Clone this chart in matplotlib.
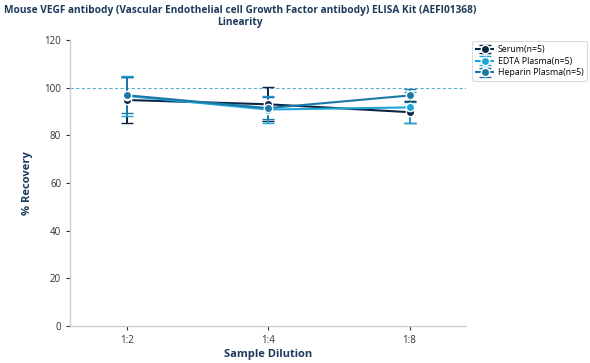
import numpy as np
import matplotlib.pyplot as plt

plt.rcParams['font.family'] = ['Open Sans', 'DejaVu Sans']

dilutions = ['1:2', '1:4', '1:8']
series_names = ['Serum(n=5)', 'EDTA Plasma(n=5)', 'Heparin Plasma(n=5)']
serum = [94.8, 93.0, 89.7]
serum_err = [9.5, 7.2, 4.5]
edta = [96.5, 90.8, 91.7]
edta_err = [8.5, 5.8, 6.5]
heparin = [96.8, 91.4, 96.7]
heparin_err = [7.5, 4.5, 2.8]

colors = ['#0b2545', '#1ea6d6', '#1b78a8']
title_color = '#1c3a5a'

fig = plt.figure(figsize=(5.9, 3.63), dpi=100)
ax = fig.add_axes([0.119, 0.102, 0.671, 0.788])

x = np.arange(len(dilutions))
for vals, errs, c, name in zip([serum, edta, heparin], [serum_err, edta_err, heparin_err], colors, series_names):
    ax.errorbar(x, vals, yerr=errs, color=c, marker='o', markersize=6, markeredgecolor='white',
                markeredgewidth=1.0, linewidth=1.5, capsize=4, capthick=1.4, elinewidth=1.4,
                label=name, zorder=3)

ax.axhline(100, color='#5aaed0', linestyle='--', linewidth=0.8, dashes=(3, 2), zorder=1)

ax.set_xlim(-0.4, 2.4)
ax.set_ylim(0, 120)
ax.set_xticks(x)
ax.set_xticklabels(dilutions)
ax.set_yticks(np.arange(0, 121, 20))
ax.tick_params(labelsize=7, colors='#333333', length=3, width=0.8)
for t in ax.get_xticklines() + ax.get_yticklines():
    t.set_color('#999999')
for s in ['top', 'right']:
    ax.spines[s].set_visible(False)
for s in ['left', 'bottom']:
    ax.spines[s].set_color('#c8cdd3')
    ax.spines[s].set_linewidth(1.0)

ax.set_xlabel('Sample Dilution', fontsize=8, fontweight='bold', color=title_color, labelpad=2)
ax.set_ylabel('% Recovery', fontsize=8, fontweight='bold', color=title_color, labelpad=8)
fig.suptitle('Mouse VEGF antibody (Vascular Endothelial cell Growth Factor antibody) ELISA Kit (AEFI01368)\nLinearity',
             x=0.407, y=0.985, fontsize=7.25, fontweight='bold', color=title_color, linespacing=1.1)

leg = ax.legend(loc='upper left', bbox_to_anchor=(1.005, 1.01), fontsize=6.3, frameon=True,
                handlelength=2.0, borderpad=0.4, labelspacing=0.3, handletextpad=0.5)
leg.get_frame().set_edgecolor('#d0d4d8')
leg.get_frame().set_linewidth(0.8)

fig.savefig('out.png', dpi=100)
